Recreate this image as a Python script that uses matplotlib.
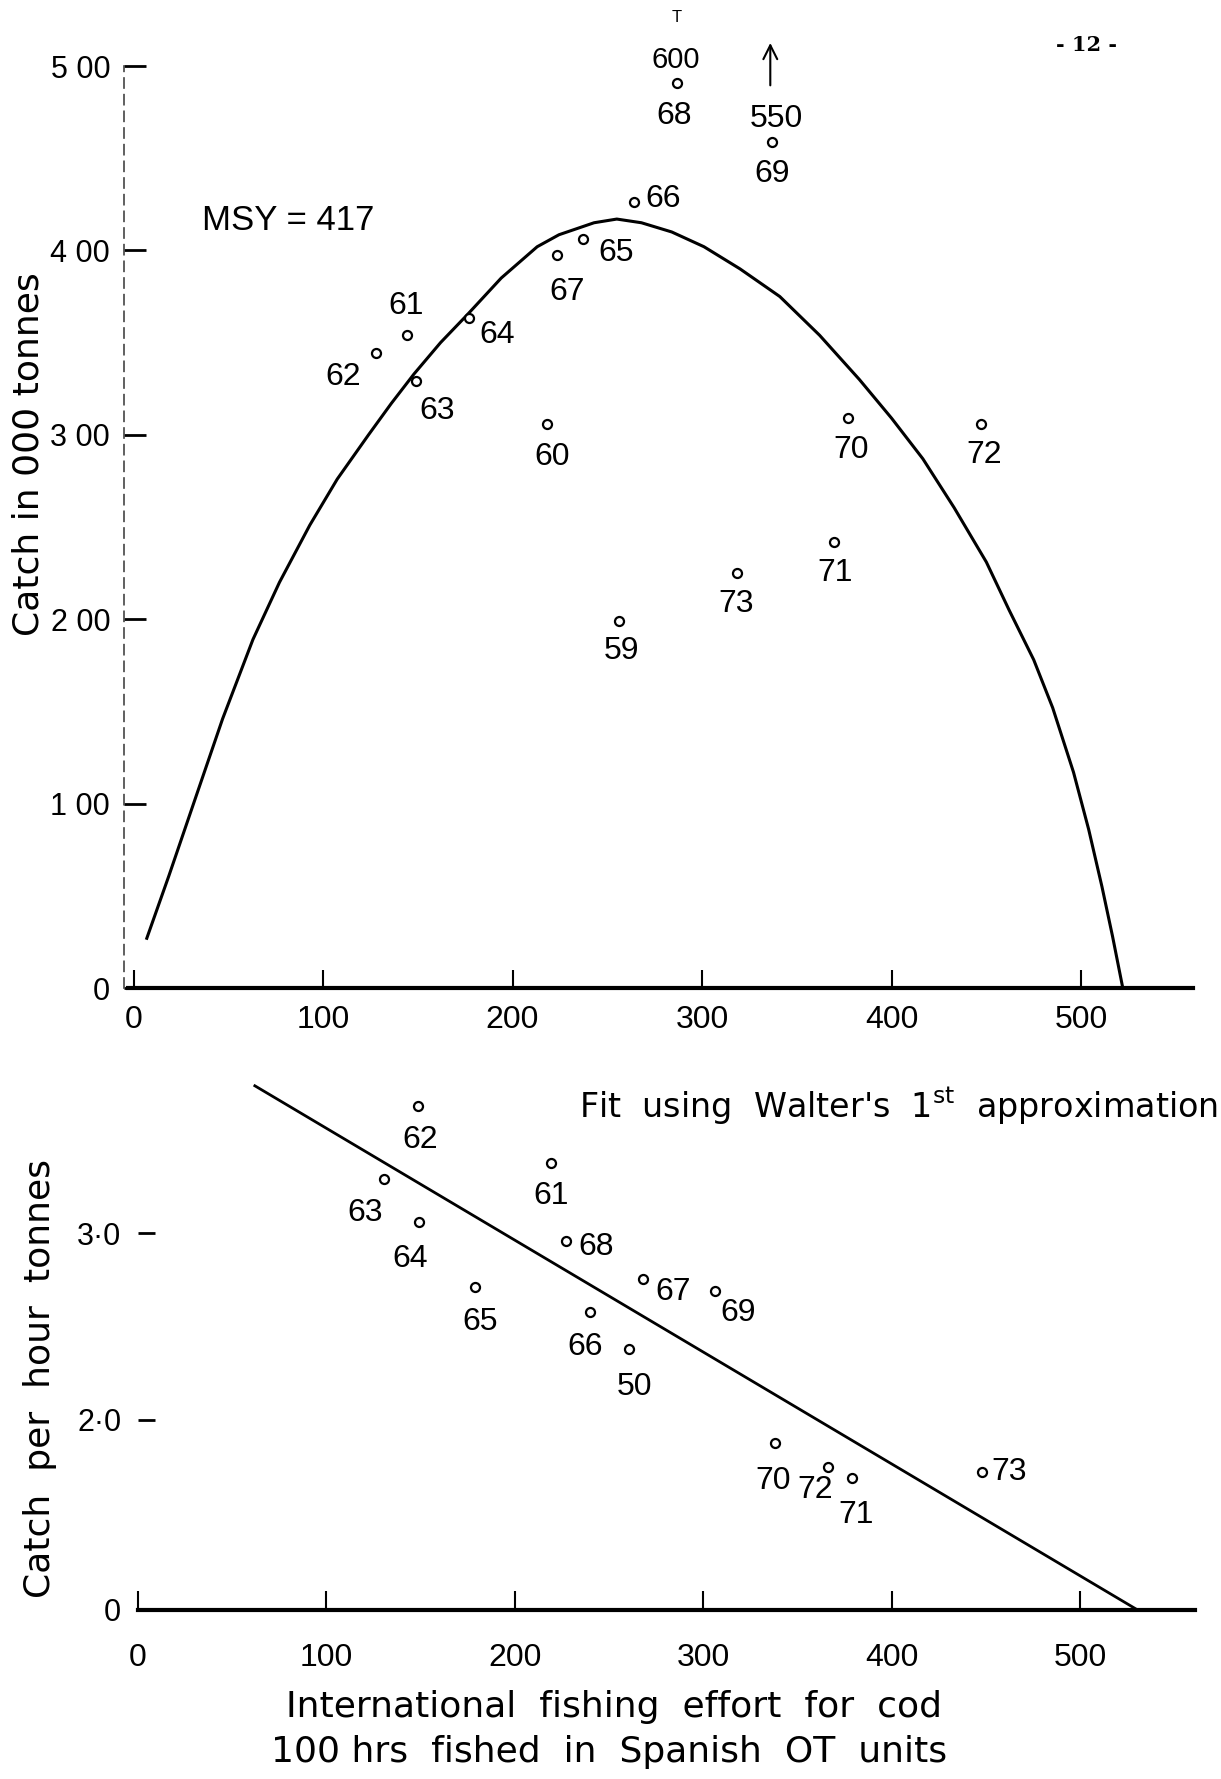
import matplotlib
matplotlib.use('Agg')
import matplotlib.pyplot as plt

# Datos (esfuerzo en 100 h, captura en 000 t)
years_top = ['59', '60', '61', '62', '63', '64', '65', '66', '67', '68', '69', '70', '71', '72', '73']
effort_top = [256, 218, 144.5, 127.7, 149, 176.8, 237, 264, 223.6, 287, 337, 377, 369.6, 447, 318.5]
catch_top = [199, 306, 354, 344.6, 329, 363.6, 406, 426, 397.6, 491, 459, 309, 242, 306, 225]

# Curva ajustada (puntos leídos a lo largo de la línea)
curve_effort = [7, 18.7, 33, 47, 63, 77, 93, 107.5, 124, 136, 148, 162, 176, 194, 213, 224.5,
                243, 255, 268, 284, 301, 320, 341, 362, 383, 400, 416.5, 433, 450, 462, 475,
                485, 496, 504, 511, 516.6, 522]
curve_catch = [27, 61, 104, 146, 189, 220, 251, 276, 300, 317, 333, 350, 365, 385, 402, 408.5,
               415, 417, 415, 410, 402, 390, 375, 354, 330, 309, 287, 260.5, 231, 205, 178,
               152, 117, 86, 55, 28, 0]

years_bot = ['62', '63', '64', '61', '68', '65', '66', '50', '67', '69', '70', '72', '71', '73']
effort_bot = [148.7, 130.5, 149, 219, 227, 178.8, 240, 260.6, 268, 306, 338, 366, 379, 447.6]
cpue_bot = [3.68, 3.29, 3.06, 3.375, 2.96, 2.71, 2.58, 2.38, 2.755, 2.69, 1.875, 1.75, 1.69, 1.72]

fit_effort = [62, 529]
fit_cpue = [3.79, 0.99]

x_ticks = [0, 100, 200, 300, 400, 500]
y_ticks_top = [0, 100, 200, 300, 400, 500]
y_labels_top = ['0', '1 00', '2 00', '3 00', '4 00', '5 00']
y_ticks_bot = [0.982, 2.0, 3.0]
y_labels_bot = ['0', '2·0', '3·0']

# desplazamiento de las etiquetas (pixeles)
off_top = {'59': (3, -30), '60': (5, -33), '61': (-1, 29), '62': (-32, -24), '63': (21, -30),
           '64': (29, -17), '65': (33, -14), '66': (29, 3), '67': (10, -37), '68': (-3, -33),
           '69': (0, -32), '70': (3, -32), '71': (1, -31), '72': (4, -31), '73': (-1, -31)}
off_bot = [(2, -34), (-19, -34), (-9, -37), (0, -33), (30, -6), (5, -35), (-5, -35), (5, -38),
           (30, -13), (23, -22), (-2, -38), (-13, -23), (4, -37), (27, 0)]

NUM = ['Liberation Sans', 'DejaVu Sans']
WIDE = ['DejaVu Sans']

fig = plt.figure(figsize=(12.21, 17.79), dpi=100)

# ---- grafico superior: captura vs esfuerzo ----
ax1 = fig.add_axes([0.1016, 0.4446, 0.8754, 0.5183])
ax1.set_xlim(-5, 559)
ax1.set_ylim(0, 500)
ax1.plot(curve_effort, curve_catch, color='black', lw=2.2)
ax1.plot(effort_top, catch_top, 'o', ms=6.5, mfc='white', mec='black', mew=1.6)
for e, c, y in zip(effort_top, catch_top, years_top):
    ax1.annotate(y, (e, c), xytext=off_top[y], textcoords='offset pixels',
                 ha='center', va='center', fontsize=23, family=NUM, annotation_clip=False)

# valores fuera de escala
ax1.annotate('600', (287, 491), xytext=(-2, 23), textcoords='offset pixels', ha='center',
             va='center', fontsize=21, family=NUM, annotation_clip=False)
ax1.annotate('T', (287, 491), xytext=(-1, 65), textcoords='offset pixels', ha='center',
             va='center', fontsize=12, family=NUM, annotation_clip=False)
ax1.annotate('550', (337, 459), xytext=(4, 23), textcoords='offset pixels', ha='center',
             va='center', fontsize=23, family=NUM, annotation_clip=False)
ax1.annotate('', xy=(336, 514), xytext=(336, 488), annotation_clip=False,
             arrowprops=dict(arrowstyle='->', lw=1.5, color='black', mutation_scale=25))

ax1.text(36, 416, 'MSY = 417', fontsize=25, family=NUM, va='center', ha='left')

for s in ['top', 'right']:
    ax1.spines[s].set_visible(False)
ax1.spines['bottom'].set_linewidth(3)
ax1.spines['bottom'].set_bounds(-3, 559)
ax1.spines['left'].set_linestyle((0, (6, 4)))
ax1.spines['left'].set_linewidth(1.2)
ax1.spines['left'].set_color('#444444')
ax1.spines['left'].set_bounds(0, 500)
ax1.set_xticks(x_ticks)
ax1.set_xticklabels([str(t) for t in x_ticks])
ax1.set_yticks(y_ticks_top)
ax1.set_yticklabels(y_labels_top)
ax1.tick_params(axis='x', direction='in', length=13, width=1.5, pad=12)
ax1.tick_params(axis='y', direction='in', length=16, width=2, pad=10)
for lab in ax1.get_xticklabels():
    lab.set_family(NUM)
    lab.set_fontsize(23)
for lab in ax1.get_yticklabels():
    lab.set_family(NUM)
    lab.set_fontsize(22)

fig.text(29 / 1221, 1 - 454 / 1779, 'Catch in 000 tonnes', rotation=90, fontsize=26,
         family=WIDE, ha='center', va='center')
fig.text(1087 / 1221, 1 - 45 / 1779, '- 12 -', fontsize=15, family='DejaVu Serif',
         weight='bold', ha='center', va='center')

# ---- grafico inferior: captura por hora vs esfuerzo ----
ax2 = fig.add_axes([0.1130, 0.0950, 0.8661, 0.3167])
ax2.set_xlim(0, 561)
ax2.set_ylim(0.982, 4.0)
ax2.plot(fit_effort, fit_cpue, color='black', lw=2)
ax2.plot(effort_bot, cpue_bot, 'o', ms=6.5, mfc='white', mec='black', mew=1.6)
for e, c, y, o in zip(effort_bot, cpue_bot, years_bot, off_bot):
    ax2.annotate(y, (e, c), xytext=o, textcoords='offset pixels', ha='center', va='center',
                 fontsize=23, family=NUM, annotation_clip=False)

ax2.text(234, 3.68, "Fit  using  Walter's  1$^{\\rm st}$  approximation", fontsize=24,
         family=WIDE, ha='left', va='center')

for s in ['top', 'right', 'left']:
    ax2.spines[s].set_visible(False)
ax2.spines['bottom'].set_linewidth(3)
ax2.set_xticks(x_ticks)
ax2.set_xticklabels([str(t) for t in x_ticks])
ax2.set_yticks(y_ticks_bot)
ax2.set_yticklabels(y_labels_bot)
ax2.tick_params(axis='x', direction='in', length=14, width=1.5, pad=24)
ax2.tick_params(axis='y', direction='in', length=12, width=2, pad=12)
for lab in ax2.get_xticklabels():
    lab.set_family(NUM)
    lab.set_fontsize(23)
for lab in ax2.get_yticklabels():
    lab.set_family(NUM)
    lab.set_fontsize(22)

fig.text(40 / 1221, 1 - 1379 / 1779, 'Catch  per  hour  tonnes', rotation=90, fontsize=26,
         family=WIDE, ha='center', va='center')
fig.text(614 / 1221, 1 - 1707 / 1779, 'International  fishing  effort  for  cod', fontsize=26,
         family=WIDE, ha='center', va='center')
fig.text(609 / 1221, 1 - 1752 / 1779, '100 hrs  fished  in  Spanish  OT  units', fontsize=26,
         family=WIDE, ha='center', va='center')

fig.savefig('out.png', dpi=100)
